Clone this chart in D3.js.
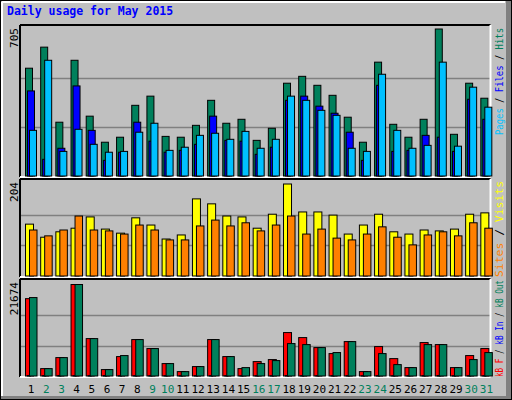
<!DOCTYPE html>
<html><head><meta charset="utf-8">
<script src="https://cdn.jsdelivr.net/npm/d3@7"></script>
<style>body{margin:0;background:#fff}svg{display:block}</style>
</head><body>
<script>
const days = d3.range(1,32);
const weekend = [2,3,9,10,16,17,23,24,30,31];
const hits  = [517,618,258,555,287,162,186,339,383,190,186,243,363,253,272,171,229,445,478,435,387,282,162,546,248,186,272,705,200,445,373];
const files = [408,80,133,432,219,75,114,258,167,114,123,152,287,171,167,104,138,363,383,335,301,210,75,435,118,123,195,186,118,368,272];
const pages = [219,555,118,224,152,114,118,210,253,123,138,195,205,176,214,133,176,383,363,315,291,133,118,488,219,133,147,546,143,426,330];
const visits= [115,86,98,106,131,104,95,129,113,82,91,171,160,133,131,106,137,204,142,142,135,93,113,137,98,93,102,100,104,137,140];
const sites = [102,89,102,133,102,100,93,113,102,80,80,111,124,111,118,100,113,133,93,104,84,80,93,109,86,69,91,98,89,118,106];
const kbF   = [18320,1750,4360,21674,8860,1520,4600,8630,6500,2940,1040,2230,8630,4600,1750,3410,3890,10290,9100,6730,5310,8150,1040,6970,4120,1990,7920,7440,1990,4840,6500];
const kbIn  = [90,110,120,80,70,110,60,70,60,60,50,60,80,60,50,60,60,90,80,70,70,80,50,70,60,50,80,120,50,60,70];
const kbOut = [18580,1750,4360,21674,8860,1520,4840,8630,6500,2940,1040,2230,8630,4600,1990,2940,3650,7680,7440,6730,5550,8150,1040,5310,2700,1990,7440,7440,1990,3890,5550];

const W=512,H=400;
const svg=d3.select("body").append("svg").attr("width",W).attr("height",H);
svg.append("rect").attr("x",0).attr("y",0).attr("width",W).attr("height",H).attr("fill","#c0c0c0");
svg.append("rect").attr("x",0.5).attr("y",0.5).attr("width",W-1).attr("height",H-1).attr("fill","none").attr("stroke","#000");
svg.append("line").attr("x1",2).attr("y1",2).attr("x2",505).attr("y2",2).attr("stroke","#fff").attr("stroke-width",2);
svg.append("line").attr("x1",2).attr("y1",2).attr("x2",2).attr("y2",396).attr("stroke","#fff").attr("stroke-width",2);
svg.append("rect").attr("x",506).attr("y",1).attr("width",5).attr("height",398).attr("fill","#808080");
svg.append("rect").attr("x",1).attr("y",396).attr("width",510).attr("height",3).attr("fill","#808080");

svg.append("text").attr("x",7).attr("y",15).text("Daily usage for May 2015")
  .attr("font-family","DejaVu Sans Mono").attr("font-weight","bold").attr("font-size",11.5).attr("fill","#0000ff");

const x=d3.scaleBand().domain(days).range([20,490.5]);
const L=20,R=490.5;
const panels=[
 {top:25,bot:177,max:705,label:"705"},
 {top:179,bot:277,max:204,label:"204"},
 {top:279,bot:377,max:21674,label:"21674"}
];
const yTop=d3.scaleLinear().domain([0,705]).range([176,29]);
const yMid=d3.scaleLinear().domain([0,204]).range([276,184]);
const yBot=d3.scaleLinear().domain([0,21674]).range([376,284.5]);
const ys=[yTop,yMid,yBot];

panels.forEach((p,i)=>{
  svg.append("rect").attr("x",L).attr("y",p.top).attr("width",R-L).attr("height",p.bot-p.top).attr("fill","#c0c0c0");
  const y=ys[i];
  [p.max/3,2*p.max/3].forEach(v=>{
    svg.append("line").attr("x1",L).attr("x2",R).attr("y1",Math.round(y(v))+0.5).attr("y2",Math.round(y(v))+0.5).attr("stroke","#808080").attr("stroke-width",1.5);
  });
  svg.append("line").attr("x1",L).attr("x2",R).attr("y1",p.top).attr("y2",p.top).attr("stroke","#000").attr("stroke-width",2);
  svg.append("line").attr("x1",L).attr("x2",L).attr("y1",p.top).attr("y2",p.bot).attr("stroke","#000").attr("stroke-width",2);
  svg.append("line").attr("x1",R).attr("x2",R).attr("y1",p.top).attr("y2",p.bot).attr("stroke","#fff").attr("stroke-width",2);
  svg.append("line").attr("x1",L).attr("x2",R).attr("y1",p.bot).attr("y2",p.bot).attr("stroke","#fff").attr("stroke-width",2);
  svg.append("text").attr("transform",`translate(18,${p.top+3}) rotate(-90)`).attr("text-anchor","end")
    .attr("font-family","DejaVu Sans Mono").attr("font-size",11).text(p.label);
});

function bars(data,y,off,w,color){
  svg.append("g").selectAll("rect").data(data).join("rect")
    .attr("x",(d,i)=>x(days[i])+off).attr("width",w)
    .attr("y",d=>y(d)).attr("height",d=>Math.max(0,y(0)-y(d)))
    .attr("fill",color).attr("stroke","#000").attr("stroke-width",1);
}
bars(hits,yTop,5.5,7,"#00805c");
bars(files,yTop,7.5,7,"#0000ff");
bars(pages,yTop,9.5,7,"#00c0ff");
bars(visits,yMid,5.5,8,"#ffff00");
bars(sites,yMid,9.5,7.5,"#ff8000");
bars(kbF,yBot,5.5,8,"#ff0000");
bars(kbIn,yBot,7.5,3,"#0000ff");
bars(kbOut,yBot,9.5,7.5,"#00805c");

svg.append("g").selectAll("text").data(days).join("text")
  .attr("x",d=>x(d)+x.bandwidth()/2+3.5).attr("y",393).attr("text-anchor","middle")
  .attr("font-family","DejaVu Sans Mono").attr("font-size",11)
  .attr("fill",d=>weekend.includes(d)?"#00805c":"#000").text(d=>d);

function sideLabel(parts,yBottom,len){
  const t=svg.append("text").attr("transform",`translate(503,${yBottom}) rotate(-90)`)
    .attr("font-family","DejaVu Sans Mono").attr("font-size",10)
    .attr("textLength",len).attr("lengthAdjust","spacingAndGlyphs");
  parts.forEach(([s,c])=>t.append("tspan").attr("fill",c).text(s));
}
sideLabel([["Pages","#00c0ff"],[" / ","#000"],["Files","#0000ff"],[" / ","#000"],["Hits","#00805c"]],135,107);
sideLabel([["Sites","#ff8000"],[" / ","#000"],["Visits","#ffff00"]],277,96);
sideLabel([["kB F","#ff0000"],[" / ","#000"],["kB In","#0000ff"],[" / ","#000"],["kB Out","#00805c"]],377,97);
</script>
</body></html>
